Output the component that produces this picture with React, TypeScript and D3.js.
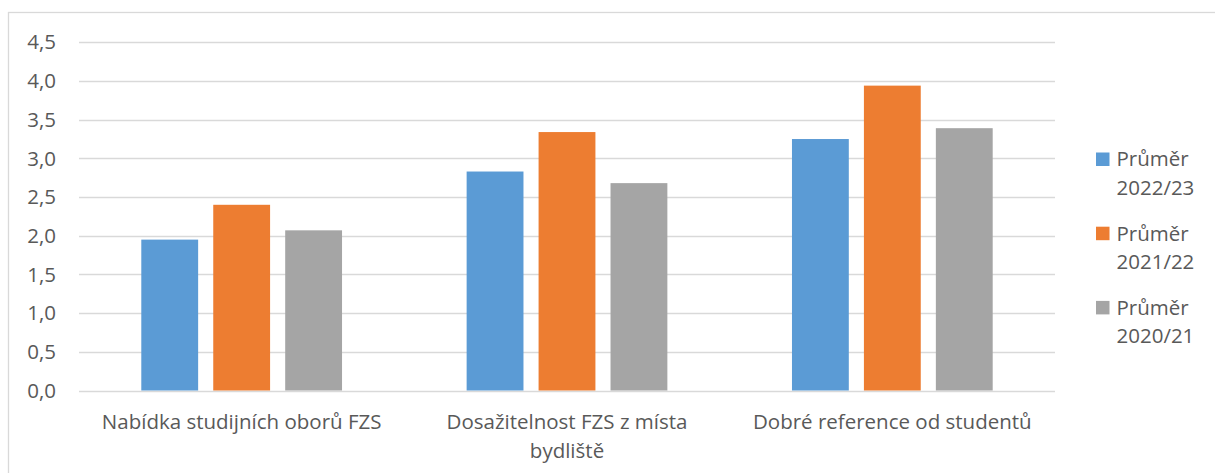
import React, { useEffect, useRef } from "react";
import * as d3 from "d3";

const categories = [
  "Nabídka studijních oborů FZS",
  "Dosažitelnost FZS z místa bydliště",
  "Dobré reference od studentů",
];
const seriesNames = ["Průměr 2022/23", "Průměr 2021/22", "Průměr 2020/21"];
const values2022_23 = [1.95, 2.83, 3.25];
const values2021_22 = [2.4, 3.34, 3.94];
const values2020_21 = [2.07, 2.68, 3.39];
const seriesColors = ["#5B9BD5", "#ED7D31", "#A5A5A5"];
const yTicks = [0, 0.5, 1, 1.5, 2, 2.5, 3, 3.5, 4, 4.5];

const W = 1215;
const H = 473;
const FONT = "'Open Sans', sans-serif";
const TEXT = "#595959";
const FS = 20.5;

export default function App() {
  const ref = useRef<SVGSVGElement | null>(null);

  useEffect(() => {
    const svg = d3.select(ref.current);
    svg.selectAll("*").remove();

    const seriesValues = [values2022_23, values2021_22, values2020_21];
    const left = 79, right = 1055, top = 42.3, bottom = 390.5;

    // chart border
    svg.append("rect")
      .attr("x", 8.5).attr("y", 12.5)
      .attr("width", W + 10).attr("height", H + 10)
      .attr("fill", "#fff").attr("stroke", "#D9D9D9").attr("stroke-width", 1.3);

    const y = d3.scaleLinear().domain([0, 4.5]).range([bottom, top]);
    const x0 = d3.scaleBand<string>().domain(categories).range([left, right])
      .paddingInner(0.383).paddingOuter(0.1915);
    const x1 = d3.scaleBand<string>().domain(seriesNames).range([0, x0.bandwidth()])
      .paddingInner(0.21).paddingOuter(0);

    // gridlines
    svg.append("g").selectAll("line").data(yTicks).join("line")
      .attr("x1", left).attr("x2", right)
      .attr("y1", d => Math.round(y(d)) + 0.5).attr("y2", d => Math.round(y(d)) + 0.5)
      .attr("stroke", "#D9D9D9").attr("stroke-width", 1.3);

    // y labels
    svg.append("g").selectAll("text").data(yTicks).join("text")
      .attr("x", 56).attr("y", d => y(d))
      .attr("dy", "0.35em")
      .attr("text-anchor", "end")
      .attr("font-family", FONT).attr("font-size", FS).attr("fill", TEXT)
      .text(d => d.toFixed(1).replace(".", ","));

    // bars
    seriesNames.forEach((s, si) => {
      svg.append("g").selectAll("rect").data(seriesValues[si]).join("rect")
        .attr("x", (_, i) => (x0(categories[i]) as number) + (x1(s) as number))
        .attr("width", x1.bandwidth())
        .attr("y", d => y(d))
        .attr("height", d => y(0) - y(d))
        .attr("fill", seriesColors[si]);
    });

    // x labels with wrapping
    const maxW = 300;
    const lineH = 29;
    const baseY = 428.5;
    categories.forEach(c => {
      const cx = (x0(c) as number) + x0.bandwidth() / 2;
      const t = svg.append("text")
        .attr("x", cx).attr("y", baseY)
        .attr("text-anchor", "middle")
        .attr("font-family", FONT).attr("font-size", FS).attr("fill", TEXT);
      const words = c.split(" ");
      let line: string[] = [];
      let lineNo = 0;
      let tspan = t.append("tspan").attr("x", cx).attr("y", baseY);
      for (const w of words) {
        line.push(w);
        tspan.text(line.join(" "));
        const node = tspan.node() as SVGTSpanElement;
        if (node.getComputedTextLength() > maxW && line.length > 1) {
          line.pop();
          tspan.text(line.join(" "));
          line = [w];
          lineNo++;
          tspan = t.append("tspan").attr("x", cx).attr("y", baseY + lineNo * lineH).text(w);
        }
      }
    });

    // legend
    const lg = svg.append("g");
    seriesNames.forEach((s, i) => {
      const ly = 152.5 + i * 74.2;
      lg.append("rect").attr("x", 1096).attr("y", ly).attr("width", 13.5).attr("height", 13.5)
        .attr("fill", seriesColors[i]);
      const parts = s.split(" ");
      parts.forEach((p, j) => {
        lg.append("text")
          .attr("x", 1116.5).attr("y", ly + 6.75 + j * 28.5)
          .attr("dy", "0.35em")
          .attr("font-family", FONT).attr("font-size", FS).attr("fill", TEXT)
          .text(p);
      });
    });
  }, []);

  return (
    <svg
      ref={ref}
      width={W}
      height={H}
      style={{ position: "absolute", left: 0, top: 0, display: "block" }}
    />
  );
}
